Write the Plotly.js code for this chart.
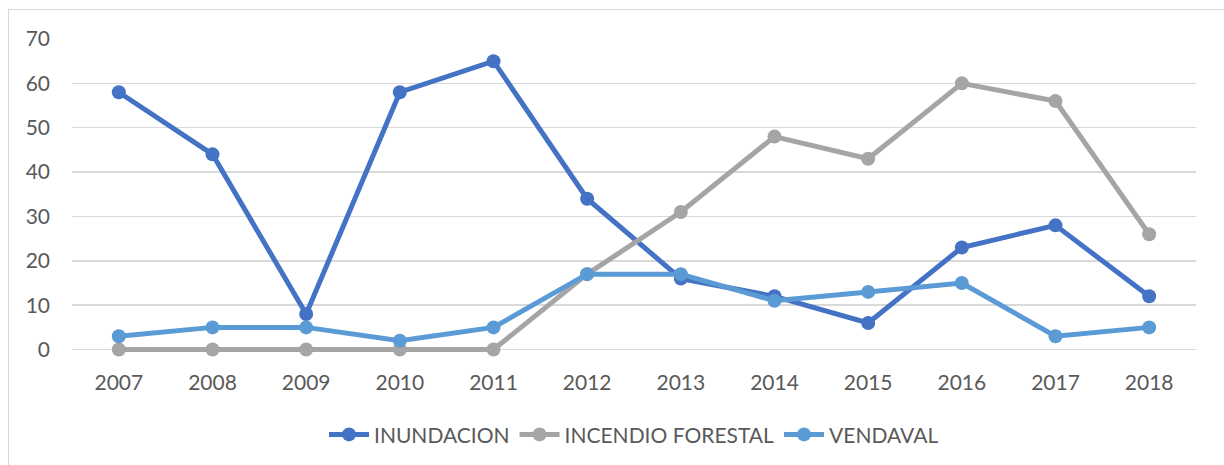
<!DOCTYPE html>
<html>
<head>
<meta charset="utf-8">
<script src="https://cdn.plot.ly/plotly-3.0.1.min.js"></script>
<style>
  html, body { margin: 0; padding: 0; background: #ffffff; overflow: hidden; }
  #frame { position: absolute; left: 8px; top: 9px; width: 1400px; height: 600px; border: 1.5px solid #d9d9d9; box-sizing: border-box; }
  #chart { position: absolute; left: 0; top: 0; width: 1224px; height: 465px; }
</style>
</head>
<body>
<div id="frame"></div>
<div id="chart"></div>
<script>
const years = ["2007","2008","2009","2010","2011","2012","2013","2014","2015","2016","2017","2018"];
const inundacion = [58, 44, 8, 58, 65, 34, 16, 12, 6, 23, 28, 12];
const incendioForestal = [0, 0, 0, 0, 0, 17, 31, 48, 43, 60, 56, 26];
const vendaval = [3, 5, 5, 2, 5, 17, 17, 11, 13, 15, 3, 5];
const yTicks = [0, 10, 20, 30, 40, 50, 60, 70];

const FONT = "Lato, 'Open Sans', sans-serif";
const FS = 21;
function series(name, y, color) {
  return {
    type: 'scatter', mode: 'lines+markers', name: name,
    x: years, y: y,
    line: { color: color, width: 5 },
    marker: { color: color, size: 14 },
    cliponaxis: false
  };
}
const data = [
  series('INUNDACION', inundacion, '#4472C4'),
  series('INCENDIO FORESTAL', incendioForestal, '#A5A5A5'),
  series('VENDAVAL', vendaval, '#5B9BD5')
];
const layout = {
  width: 1224, height: 465,
  margin: { l: 72, r: 28, t: 39, b: 111, autoexpand: false },
  paper_bgcolor: 'rgba(0,0,0,0)', plot_bgcolor: 'rgba(0,0,0,0)',
  font: { family: FONT, size: FS, color: '#595959' },
  showlegend: true,
  legend: {
    orientation: 'h', x: 0.5, xanchor: 'center',
    yref: 'container', y: 0.065, yanchor: 'middle',
    font: { family: FONT, size: FS, color: '#595959' },
    itemwidth: 40, traceorder: 'normal'
  },
  xaxis: {
    type: 'category', range: [-0.5, 11.5], showgrid: false, zeroline: false,
    showline: false, ticks: '', ticklabelstandoff: 14, automargin: false,
    tickfont: { family: FONT, size: FS, color: '#595959' }, fixedrange: true
  },
  yaxis: {
    range: [-1, 70], tickvals: yTicks, showgrid: true, gridcolor: '#d9d9d9', gridwidth: 1.5,
    zeroline: false, showline: false, ticks: '', ticklabelstandoff: 21, automargin: false,
    tickfont: { family: FONT, size: FS, color: '#595959' }, fixedrange: true
  }
};
Plotly.newPlot('chart', data, layout, { displayModeBar: false, staticPlot: true });
</script>
</body>
</html>
